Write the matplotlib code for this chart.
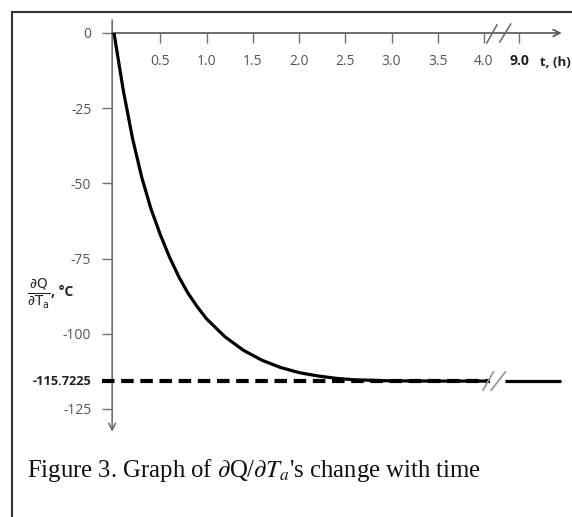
import matplotlib
matplotlib.use("Agg")
import matplotlib.pyplot as plt
from matplotlib.lines import Line2D
import numpy as np

# ---- data ----
t_early = [0, 0.1, 0.2, 0.3, 0.4, 0.5, 0.6, 0.7, 0.8, 0.9, 1.0, 1.2, 1.4,
           1.6, 1.8, 2.0, 2.2, 2.4, 2.6, 3.0, 3.5, 4.06]
v_early = [0, -19, -35, -48, -58.5, -67, -74.5, -81, -86.5, -91, -95,
           -101, -105.5, -108.8, -111.2, -112.9, -114.0, -114.8, -115.3,
           -115.65, -115.72, -115.72]
t_late = [8.85, 9.0, 9.45]
v_late = [-115.7225, -115.7225, -115.7225]
steady_value = -115.7225

x_ticks = [0.5, 1.0, 1.5, 2.0, 2.5, 3.0, 3.5, 4.0, 9.0]
x_tick_labels = ["0.5", "1.0", "1.5", "2.0", "2.5", "3.0", "3.5", "4.0", "9.0"]
y_ticks = [0, -25, -50, -75, -100, -125]
y_tick_labels = ["0", "-25", "-50", "-75", "-100", "-125"]

# broken time axis: t <= 4.1 shown as is, t >= 8.8 shifted left
BREAK_SHIFT = 9.0 - 4.378
def pos(t):
    t = np.asarray(t, dtype=float)
    return np.where(t > 6, t - BREAK_SHIFT, t)

plt.rcParams['mathtext.fontset'] = 'stix'

W, H = 572, 517
fig = plt.figure(figsize=(W / 100, H / 100), dpi=100)
ax = fig.add_axes([0, 0, 1, 1])
ax.set_xlim(-114 / 92.5, (W - 114) / 92.5)
ax.set_ylim(-(H - 33) / 3.008, 33 / 3.008)
ax.patch.set_alpha(0)

AX_X = -0.02  # vertical axis position
ax.spines['left'].set_position(('data', AX_X))
ax.spines['bottom'].set_position(('data', 0))
for s in ['top', 'right']:
    ax.spines[s].set_visible(False)
for s in ['left', 'bottom']:
    ax.spines[s].set_color('none')

FS = 10
ax.set_xticks(pos(x_ticks))
ax.set_xticklabels(x_tick_labels)
ax.set_yticks(y_ticks)
ax.set_yticklabels(y_tick_labels)
ax.tick_params(axis='x', direction='out', length=7, width=1.0, color='#707070',
               pad=8, labelsize=FS, labelcolor='#555555')
ax.tick_params(axis='y', direction='out', length=7, width=1.0, color='#707070',
               pad=8, labelsize=FS, labelcolor='#555555')
for lab in ax.get_xticklabels() + ax.get_yticklabels():
    lab.set_fontfamily('Open Sans')
lab9 = ax.get_xticklabels()[-1]
lab9.set_fontweight('bold')
lab9.set_color('#222222')

# axes with arrows
ax.annotate('', xy=(AX_X, -132.6), xytext=(AX_X, 4.3),
            arrowprops=dict(arrowstyle='->', color='#707070', lw=1.2,
                            mutation_scale=12, shrinkA=0, shrinkB=0))
ax.annotate('', xy=(4.84, 0), xytext=(AX_X, 0),
            arrowprops=dict(arrowstyle='->', color='#555555', lw=1.2,
                            mutation_scale=12, shrinkA=0, shrinkB=0))

# steady value dashed line
ax.hlines(steady_value, -0.13, 4.07, colors='black', linestyles=(0, (3.0, 1.6)),
          lw=3.0, zorder=3)

# curve
ax.plot(pos(t_early), v_early, color='black', lw=2.3, zorder=4,
        solid_capstyle='butt', solid_joinstyle='round')
ax.plot(pos(t_late), v_late, color='black', lw=2.3, zorder=4,
        solid_capstyle='butt')

# break marks on the time axis and curve
for (x0, y0, x1, y1) in [(4.03, -3.3, 4.14, 2.7), (4.17, -3.0, 4.29, 3.0)]:
    ax.plot([x0, x1], [y0, y1], color='#666666', lw=1.1, zorder=5)
for (x0, y0, x1, y1) in [(3.99, -118.7, 4.10, -112.7), (4.08, -118.7, 4.23, -112.7)]:
    ax.plot([x0, x1], [y0, y1], color='#9a9a9a', lw=1.3, zorder=5)

# steady value label
ax.annotate('-115.7225', xy=(AX_X, steady_value), xytext=(-15, 0),
            textcoords='offset points', ha='right', va='center',
            fontsize=9.2, fontweight='bold', color='#222222',
            fontfamily='Open Sans')

# axis title on time axis
fig.text(555 / W, 1 - 62 / H, 't, (h)', ha='center', va='center',
         fontsize=9.5, fontweight='bold', color='#222222', fontfamily='Open Sans')

# y label
fig.text(39 / W, 1 - 294 / H,
         r'$\frac{\partial\mathrm{Q}}{\partial\mathrm{T}_{\mathrm{a}}}$',
         ha='center', va='center', fontsize=14, color='#222222',
         math_fontfamily='dejavusans')
fig.text(51 / W, 1 - 292 / H, ', °C', ha='left', va='center', fontsize=10,
         fontweight='bold', color='#222222', fontfamily='Open Sans')

# caption
fig.text(27 / W, 1 - 470 / H,
         r"Figure 3. Graph of $\partial$Q/$\partial T_a$'s change with time",
         ha='left', va='center', fontsize=17.8, color='#111111',
         fontfamily='Liberation Serif')

# page frame (top and left)
fig.add_artist(Line2D([12 / W, 1], [1 - 12 / H, 1 - 12 / H], color='#333333',
                      lw=1.5, transform=fig.transFigure))
fig.add_artist(Line2D([12 / W, 12 / W], [0, 1 - 12 / H], color='#333333',
                      lw=1.5, transform=fig.transFigure))

fig.savefig('out.png', dpi=100)
